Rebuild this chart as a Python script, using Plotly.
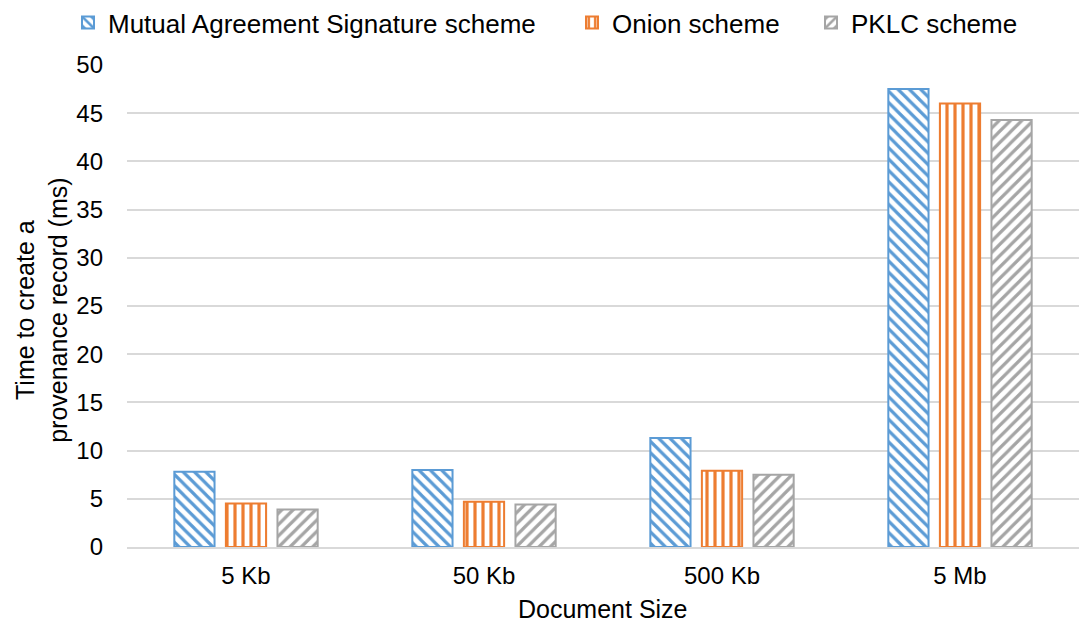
import plotly.graph_objects as go

categories = ["5 Kb", "50 Kb", "500 Kb", "5 Mb"]
mutual = [7.8, 8.0, 11.3, 47.5]
onion = [4.5, 4.7, 7.9, 46.0]
pklc = [3.9, 4.4, 7.5, 44.3]
series_names = ["Mutual Agreement Signature scheme", "Onion scheme", "PKLC scheme"]
y_ticks = [0, 5, 10, 15, 20, 25, 30, 35, 40, 45, 50]

colors = ["#5B9BD5", "#ED7D31", "#A5A5A5"]
shapes = ["\\", "|", "/"]
legend_ids = ["legend", "legend2", "legend3"]

W, H = 1073, 615
fig = go.Figure()
for name, vals, col, shp, lg in zip(series_names, [mutual, onion, pklc], colors, shapes, legend_ids):
    fig.add_trace(go.Bar(
        x=categories, y=vals, name=name, legend=lg, showlegend=True,
        marker=dict(color="white",
                    line=dict(color=col, width=2),
                    pattern=dict(shape=shp, fgcolor=col, bgcolor="white",
                                 size=8, solidity=0.4, fillmode="replace")),
    ))

font = "Liberation Sans, Arial, sans-serif"
leg_common = dict(orientation="h", xanchor="left", xref="container", yanchor="top",
                  yref="paper", y=1 + (57 + 9) / 482, font=dict(size=26), itemwidth=30,
                  bgcolor="rgba(0,0,0,0)")
fig.update_layout(
    width=W, height=H, showlegend=True,
    barmode="group", bargap=0.35, bargroupgap=0.22,
    plot_bgcolor="white", paper_bgcolor="white",
    margin=dict(l=119, r=2, t=57, b=76, autoexpand=False),
    font=dict(family=font, size=24, color="#000000"),
    legend=dict(x=60 / W, **leg_common),
    legend2=dict(x=564 / W, **leg_common),
    legend3=dict(x=803 / W, **leg_common),
    xaxis=dict(showline=True, linecolor="#D9D9D9", linewidth=2, automargin=False,
               tickfont=dict(size=24), ticks="", ticklabelstandoff=6),
    yaxis=dict(range=[0, 50], tickvals=y_ticks, showgrid=True, gridcolor="#D9D9D9",
               gridwidth=1.5, zeroline=False, tickfont=dict(size=24), ticks="",
               automargin=False, ticklabelstandoff=23),
    annotations=[
        dict(text="Time to create a<br>provenance record (ms)", textangle=-90,
             xref="paper", yref="paper", x=-0.0893, y=0.492, xanchor="center", yanchor="middle",
             showarrow=False, font=dict(size=25)),
        dict(text="Document Size", xref="paper", yref="paper", x=0.5, y=-0.129,
             xanchor="center", yanchor="middle", showarrow=False, font=dict(size=25)),
    ],
)
fig.write_html("out.html")
